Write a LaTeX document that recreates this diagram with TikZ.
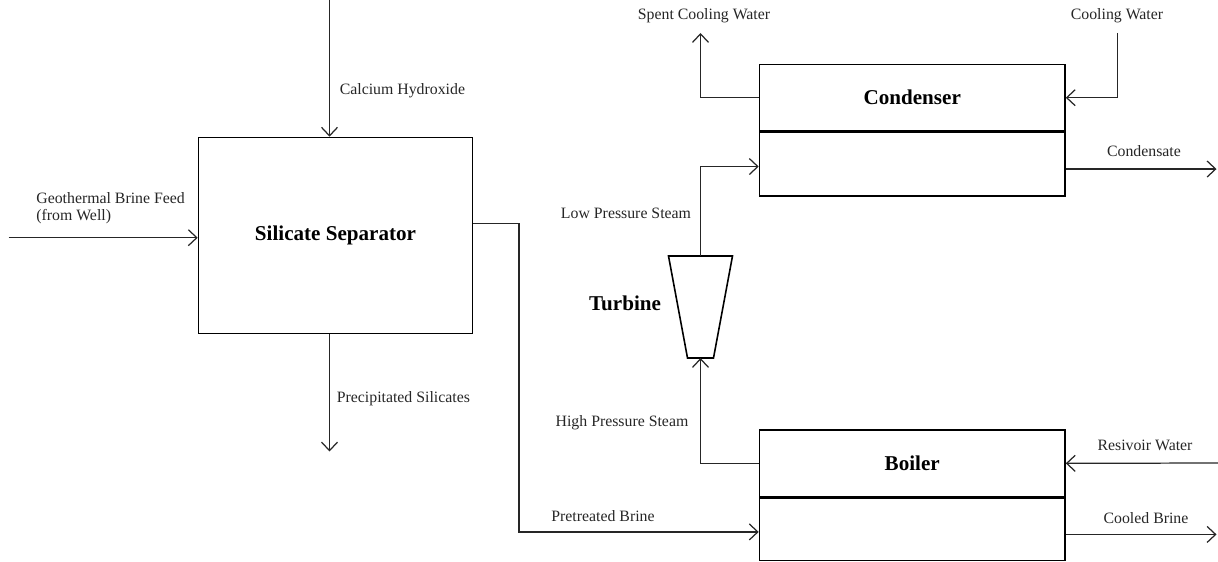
\documentclass[tikz,border=0pt]{standalone}
\usepackage{fontspec}
\setmainfont{Liberation Serif}
\usetikzlibrary{arrows.meta,positioning}

\begin{document}
\begin{tikzpicture}[
  font=\fontsize{9}{10}\selectfont,
  >={Straight Barb[length=1.7mm,width=3.2mm]},
  unit/.style={draw=black, line width=0.9pt, inner sep=0pt, font=\fontsize{12}{14}\selectfont\bfseries},
  unitname/.style={inner sep=0pt, font=\fontsize{12}{14}\selectfont\bfseries},
  flow/.style={->, draw=black!85, line width=0.7pt},
  lbl/.style={inner sep=0pt, text=black!85}
]
\useasboundingbox (0,0) rectangle (24.36,11.22);

% units
\node[unit, minimum width=5.48cm, minimum height=3.92cm] (sep) at (6.71,6.51) {Silicate Separator};
\node[unit, minimum width=6.11cm, minimum height=1.32cm] (cond) at (18.245,9.266) {Condenser};
\node[unit, minimum width=6.11cm, minimum height=1.27cm, below=0pt of cond] (condlow) {};
\node[unit, minimum width=6.11cm, minimum height=1.33cm] (boil) at (18.245,1.953) {Boiler};
\node[unit, minimum width=6.11cm, minimum height=1.25cm, below=0pt of boil] (boillow) {};

% turbine
\coordinate (turbTop) at (14.01,6.10);
\coordinate (turbBot) at (14.01,4.06);
\draw[line width=0.9pt] ([xshift=-0.64cm]turbTop) -- ([xshift=0.64cm]turbTop)
  -- ([xshift=0.26cm]turbBot) -- ([xshift=-0.26cm]turbBot) -- cycle;
\node[unitname] (turbname) at (12.5,5.16) {Turbine};

% stream ends
\coordinate (caIn) at (6.59,11.22);
\coordinate (feedIn) at (0.17,6.466);
\coordinate (pptOut) at (6.59,2.19);
\coordinate (pbTurn) at (10.38,6.75);
\coordinate (scwOut) at (14.01,10.56);
\coordinate (cwIn) at (22.35,10.56);
\coordinate (cdOut) at (24.33,7.87);
\coordinate (rwIn) at (24.36,1.96);
\coordinate (cbOut) at (24.33,0.56);

% streams
\draw[flow] (caIn) -- (caIn |- sep.north);
\draw[flow] (feedIn) -- (feedIn -| sep.west);
\draw[flow] (caIn |- sep.south) -- (pptOut);
\draw[flow] (pbTurn -| sep.east) -- (pbTurn) |- ([yshift=-0.05cm]boillow.west);
\draw[flow] (boil.west) -| (turbBot);
\draw[flow] (turbTop) |- ([yshift=-0.05cm]condlow.west);
\draw[flow] (cond.west) -| (scwOut);
\draw[flow] (cwIn) |- (cond.east);
\draw[flow] ([yshift=-0.1cm]condlow.east) -- ([yshift=-0.1cm]condlow.east -| cdOut);
\draw[flow] (rwIn) -- (boil.east);
\draw[flow] ([yshift=-0.1cm]boillow.east) -- ([yshift=-0.1cm]boillow.east -| cbOut);

% stream labels
\node[lbl, anchor=west] (caLbl) at (6.79,9.40) {Calcium Hydroxide};
\node[lbl, anchor=west, align=left] (feedLbl) at (0.72,7.06) {Geothermal Brine Feed\\(from Well)};
\node[lbl, anchor=west] (pptLbl) at (6.73,3.24) {Precipitated Silicates};
\node[lbl] (pbLbl) at (12.06,0.90) {Pretreated Brine};
\node[lbl] (hpLbl) at (12.44,2.77) {High Pressure Steam};
\node[lbl] (lpLbl) at (12.52,6.96) {Low Pressure Steam};
\node[lbl] (scwLbl) at (14.08,10.90) {Spent Cooling Water};
\node[lbl] (cwLbl) at (22.34,10.90) {Cooling Water};
\node[lbl] (cdLbl) at (22.88,8.20) {Condensate};
\node[lbl] (rwLbl) at (22.90,2.32) {Resivoir Water};
\node[lbl] (cbLbl) at (22.92,0.86) {Cooled Brine};
\end{tikzpicture}
\end{document}
